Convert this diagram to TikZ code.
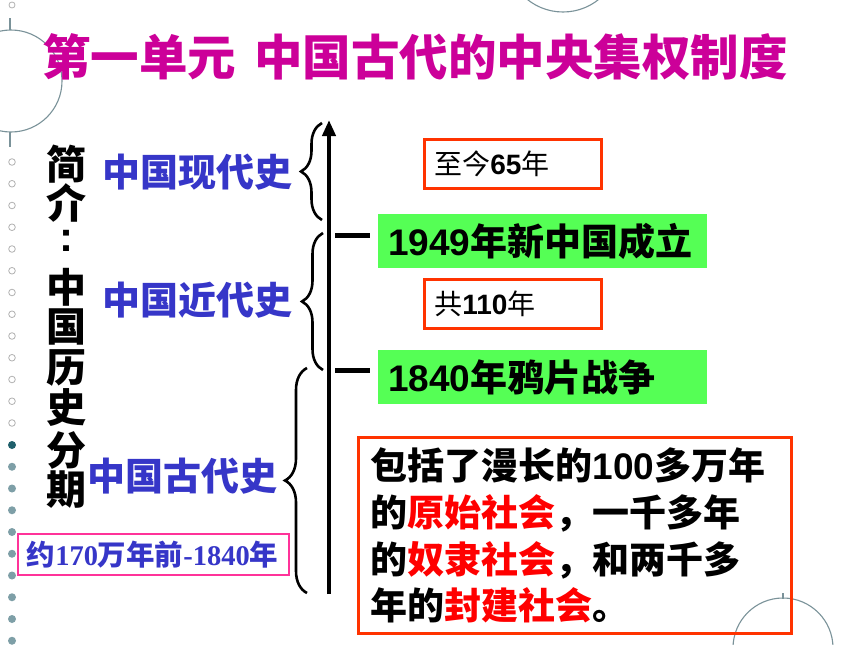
\documentclass[tikz,border=0pt]{standalone}
\usepackage{fontspec}
\usetikzlibrary{decorations.pathreplacing,arrows.meta}
\newfontfamily\cjk{Noto Sans CJK SC}
\newfontfamily\arl{Liberation Sans}
\newfontfamily\tnr{Liberation Serif}
\newcommand\fsz[1]{\fontsize{#1}{#1}\selectfont}
\definecolor{magt}{HTML}{CC0099}
\definecolor{bluet}{HTML}{3636C8}
\definecolor{greenb}{HTML}{55FF55}
\definecolor{redb}{HTML}{FF3300}
\definecolor{redt}{HTML}{FF0000}
\definecolor{pinkb}{HTML}{FF3399}
\definecolor{deco}{HTML}{7E9FA7}
\definecolor{decodark}{HTML}{1F5F6B}
\definecolor{decoline}{HTML}{7A9299}
\begin{document}
\begin{tikzpicture}[x=1pt,y=-1pt,
  title/.style={font=\cjk\bfseries\fsz{48.5}, text=magt, inner sep=0pt},
  vchar/.style={font=\cjk\bfseries\fsz{40}, inner sep=0pt},
  era/.style={font=\cjk\bfseries\fsz{38}, text=bluet, inner sep=0pt, anchor=west},
  greenbox/.style={fill=greenb, minimum height=54pt, text width=309pt, inner xsep=10pt, inner ysep=0pt, align=left, font=\cjk\bfseries\fsz{37}, anchor=north west},
  smallbox/.style={draw=redb, line width=2.5pt, minimum height=49pt, text width=157pt, inner xsep=10pt, inner ysep=0pt, align=left, font=\cjk\fsz{28}, anchor=north west},
  bigbox/.style={draw=redb, line width=3pt, minimum height=196pt, text width=409pt, inner xsep=12pt, inner ysep=0pt, align=left, font=\cjk\bfseries\fontsize{37}{46.7}\selectfont, anchor=north west},
  pinkbox/.style={draw=pinkb, line width=1.5pt, minimum height=41pt, text width=253pt, inner xsep=9pt, inner ysep=0pt, align=left, font=\bfseries\fsz{28.5}, text=bluet, anchor=north west},
  bracestyle/.style={decorate, decoration={brace, amplitude=#1}, line width=2.6pt},
  axis/.style={line width=4pt, -{Triangle[length=16pt,width=13pt]}},
  tickmark/.style={line width=5pt},
  decocirc/.style={draw=decoline, line width=1.1pt},
  hollowdot/.style={draw=gray!60, line width=0.8pt},
  filldot/.style={fill=deco}
]
\useasboundingbox (0,0) rectangle (860,645);
\fill[white] (0,0) rectangle (860,645);

% decorations
\draw[decocirc] (11,81) circle (51);
\draw[decocirc] (10,18) -- (10,30);
\draw[decocirc] (10,132) -- (10,147);
\draw[hollowdot] (12,5) circle (3);
\draw[decocirc] (563,-45) circle (57);
\draw[decocirc] (783,648) circle (50);
\draw[decocirc] (783,593) -- (783,599);
\foreach \k in {0,...,12} \draw[hollowdot] (12,162+21.75*\k) circle (3.3);
\fill[decodark] (12,445) circle (4);
\foreach \k in {1,...,9} \fill[filldot] (12,445+21.75*\k) circle (4);

% title
\node[title, anchor=west] (t1) at (42,57) {第一单元};
\node[title, anchor=east] (t2) at (788,57) {中国古代的中央集权制度};

% vertical label
\node[vchar] (v1) at (66,164) {简};
\node[vchar] (v2) at (66,203) {介};
\node[vchar, font=\arl\bfseries\fsz{42}] (v3) at (66,241) {:};
\node[vchar] (v4) at (66,287) {中};
\node[vchar] (v5) at (66,327) {国};
\node[vchar] (v6) at (66,368) {历};
\node[vchar] (v7) at (66,408) {史};
\node[vchar] (v8) at (66,450) {分};
\node[vchar] (v9) at (66,490) {期};

% era labels
\node[era] (e1) at (102,172) {中国现代史};
\node[era] (e2) at (102,300) {中国近代史};
\node[era] (e3) at (87,476) {中国古代史};

% braces
\coordinate (b1s) at (322,220); \coordinate (b1e) at (322,123);
\coordinate (b2s) at (323,370); \coordinate (b2e) at (323,233);
\coordinate (b3s) at (307,593); \coordinate (b3e) at (307,368);
\draw[bracestyle=21pt] (b1s) -- (b1e);
\draw[bracestyle=21pt] (b2s) -- (b2e);
\draw[bracestyle=22pt] (b3s) -- (b3e);

% time axis
\coordinate (abot) at (329,594); \coordinate (atop) at (329,120);
\draw[axis] (abot) -- (atop);
\coordinate (k1a) at (335,235); \coordinate (k1b) at (370,235);
\coordinate (k2a) at (335,370); \coordinate (k2b) at (370,370);
\draw[tickmark] (k1a) -- (k1b);
\draw[tickmark] (k2a) -- (k2b);

% boxes
\node[smallbox] (r1) at (423,138) {至今{\arl\bfseries 65}年};
\node[greenbox] (g1) at (378,214) {{\arl 1949}年新中国成立};
\node[smallbox] (r2) at (423,278) {共{\arl\bfseries 110}年};
\node[greenbox] (g2) at (378,350) {{\arl 1840}年鸦片战争};
\node[bigbox] (big) at (357,436) {包括了漫长的{\arl 100}多万年\\
的{\color{redt}原始社会}，一千多年\\
的{\color{redt}奴隶社会}，和两千多\\
年的{\color{redt}封建社会}。};
\node[pinkbox] (pk) at (17,533) {{\cjk 约}{\tnr 170}{\cjk 万年前}{\tnr -1840}{\cjk 年}};
\end{tikzpicture}
\end{document}
